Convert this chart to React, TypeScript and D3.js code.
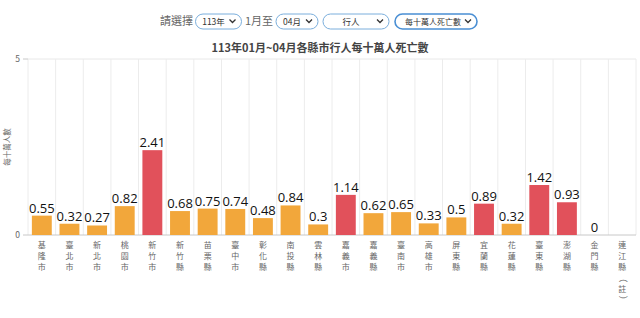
import React from "react";
import * as d3 from "d3";

const categories = ["基隆市","臺北市","新北市","桃園市","新竹市","新竹縣","苗栗縣","臺中市","彰化縣","南投縣","雲林縣","嘉義市","嘉義縣","臺南市","高雄市","屏東縣","宜蘭縣","花蓮縣","臺東縣","澎湖縣","金門縣","連江縣（註）"];
const values: (number | null)[] = [0.55,0.32,0.27,0.82,2.41,0.68,0.75,0.74,0.48,0.84,0.3,1.14,0.62,0.65,0.33,0.5,0.89,0.32,1.42,0.93,0,null];
const highlight = [false,false,false,false,true,false,false,false,false,false,false,true,false,false,false,false,true,false,true,true,false,false];
const yTicks = [0, 5];
const title = "113年01月~04月各縣市行人每十萬人死亡數";
const yLabel = "每十萬人數";
const selects = [
  { label: "113年", x0: 195.5, x1: 241.5 },
  { label: "04月", x0: 276, x1: 318 },
  { label: "行人", x0: 323, x1: 389 },
  { label: "每十萬人死亡數", x0: 395, x1: 477 },
];

const W = 640, H = 318;
const ORANGE = "#f2a73b";
const RED = "#e1515b";
const FONT = "'Noto Sans CJK TC', 'Noto Sans', sans-serif";

export default function App() {
  const x = d3.scaleBand<string>().domain(categories).range([28, 636]).paddingInner(0.28).paddingOuter(0.14);
  const y = d3.scaleLinear().domain([0, 5]).range([235, 59]);
  const step = x.step();
  const gridXs = categories.map((c) => (x(c) as number) - (step * 0.28) / 2).concat([636]);

  return (
    <svg width={W} height={H} style={{ position: "absolute", left: 0, top: 0, background: "#fff" }} fontFamily={FONT}>
      {/* controls */}
      <text x={160} y={25} fontSize={11} fill="#666">請選擇</text>
      <text x={245} y={25} fontSize={11} fill="#666">1月至</text>
      {selects.map((s, i) => (
        <g key={i}>
          <rect x={s.x0} y={14} width={s.x1 - s.x0} height={15} rx={7.5} fill="#fff" stroke={i === 3 ? "#4a8fd4" : "#7aaedc"} strokeWidth={i === 3 ? 1.6 : 1} />
          <text x={i === 3 ? s.x0 + 38 : (s.x0 + s.x1 - 10) / 2} y={24.5} fontSize={i === 3 ? 8 : 8.5} textAnchor="middle" fill="#333">{s.label}</text>
          <path d={`M${s.x1 - 12},${19.5} l3,3 l3,-3`} fill="none" stroke="#333" strokeWidth={1.3} />
        </g>
      ))}
      <text x={320} y={51.5} fontSize={11} fontWeight="bold" textAnchor="middle" fill="#444">{title}</text>

      {/* grid */}
      <line x1={28} x2={636} y1={y(5)} y2={y(5)} stroke="#e8e8e8" />
      {gridXs.map((gx, i) => (
        <line key={i} x1={gx} x2={gx} y1={y(5)} y2={y(0)} stroke="#ececec" />
      ))}
      <line x1={28} x2={636} y1={y(0)} y2={y(0)} stroke="#c8c8c8" />
      {yTicks.map((t) => (
        <g key={t}>
          <line x1={23} x2={28} y1={y(t)} y2={y(t)} stroke="#c8c8c8" />
          <text x={20} y={y(t) + 3} fontSize={8.5} textAnchor="end" fill="#666">{t}</text>
        </g>
      ))}
      <text transform={`translate(10,${147}) rotate(-90)`} fontSize={7.5} textAnchor="middle" fill="#666">{yLabel}</text>

      {/* bars */}
      {categories.map((c, i) => {
        const v = values[i];
        const bx = x(c) as number;
        const bw = x.bandwidth();
        return (
          <g key={c}>
            {v !== null && v > 0 && (
              <rect x={bx} y={y(v)} width={bw} height={y(0) - y(v)} fill={highlight[i] ? RED : ORANGE} />
            )}
            {v !== null && (
              <text x={bx + bw / 2} y={y(v) - 3} fontSize={13} textAnchor="middle" fill="#111" fontFamily="'Open Sans', 'Liberation Sans', sans-serif">{String(v)}</text>
            )}
            {Array.from(c).map((ch, k) => {
              const cx = bx + bw / 2;
              const cy = 248 + k * 11;
              const paren = ch === "（" || ch === "）";
              return paren ? (
                <text key={k} x={0} y={0} transform={`translate(${cx},${cy - 3}) rotate(90)`} fontSize={9} textAnchor="middle" dominantBaseline="middle" fill="#666">{ch}</text>
              ) : (
                <text key={k} x={cx} y={cy} fontSize={8} textAnchor="middle" fill="#666">{ch}</text>
              );
            })}
          </g>
        );
      })}
    </svg>
  );
}
